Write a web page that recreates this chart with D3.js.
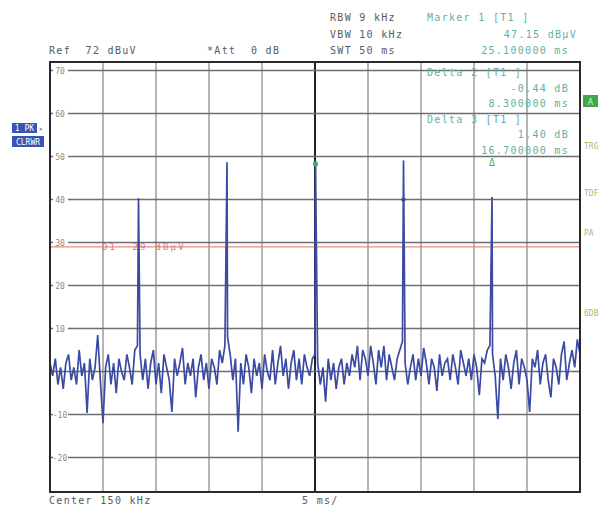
<!DOCTYPE html>
<html>
<head>
<meta charset="utf-8">
<script src="https://cdn.jsdelivr.net/npm/d3@7"></script>
<style>
  body { margin: 0; background: #fff; }
  svg text { font-family: "DejaVu Sans Mono", monospace; white-space: pre; }
</style>
</head>
<body>
<svg width="607" height="505"></svg>
<script>
// trace: noise floor sampled every 0.25 ms over the 50 ms sweep (dBuV)
const noiseStepMs = 0.25;
const noiseLevels = [
  2, -1, 3, -3, 1, -4, 2, 4, -2, 1,
  -3, 5, -1, 2, -9.6, 3, -2, 1, 8.5, -2,
  -12, 1, 4, -3, 2, -5, 3, 0, -2, 4,
  1, -3, 5, 6, 4, -2, 3, -4, 2, 5,
  -3, 2, -5, 4, 1, -2, -9.4, 3, -1, 2,
  5.5, -3, 2, -1, 3, -6, 1, 4, -2, 2,
  -4, 3, 1, -3, 5, 2, 6, 8, 4, -2,
  3, -14, 2, -3, 4, 1, -5, 3, -1, 2,
  -4, 4, 0, -2, 5, -3, 2, 6, -1, 3,
  -4, 2, 5, -2, 3, -3, 4, 1, -1, 3,
  4, 2, -3, 1, -7, 3, -2, 2, -4, 1,
  3, -3, 2, -1, 4, 1, 6, -2, 5, 3,
  -1, 6, 2, -3, 5, 1, 6, -2, 4, 1,
  -2, 3, 5, 7, 2, -3, 1, 4, -2, 3,
  -1, 5.5, 2, -3, 3, 1, -4.5, 4, -1, 2,
  3, -2, 4, 1, -3, 5, 2, -1, 3, -2,
  4, 1, -5.5, 3, 2, 5, 6, 4, -1, -11,
  3, -2, 4, 1, -4, 2, 5, -3, 3, 1,
  -2, -9.4, 3, 1, 5, -3, 2, 4, -2, -6,
  3, 1, -3, 4, 7, -2, 2, 5, 1, 7.5,
  4
];

// pulses
const peakTimes = [8.35, 16.7, 25.05, 33.35, 41.7];
const peakLevels = [40.3, 48.7, 48.3, 49.1, 40.6];

// axes
const xTicks = [0, 5, 10, 15, 20, 25, 30, 35, 40, 45, 50];
const yTicks = [-20, -10, 0, 10, 20, 30, 40, 50, 60, 70];
const yTickLabels = ["-20", "-10", "", "10", "20", "30", "40", "50", "60", "70"];
const refLevel = 72;
const sweepMs = 50;

// display line
const displayLine = 29;
const displayLabel = "D1  29 dBµV";

// markers
const marker1 = { t: 25.05, level: 48.3 };
const delta2 = { t: 33.35, level: 40 };
const delta3 = { t: 41.7, level: 48.4 };

// header / marker info texts
const settingsLeft = ["Ref  72 dBuV", "*Att  0 dB"];
const settingsRight = ["RBW 9 kHz", "VBW 10 kHz", "SWT 50 ms"];
const markerInfo = ["Marker 1 [T1 ]", "47.15 dBµV", "25.100000 ms"];
const deltaInfo = ["Delta 2 [T1 ]", "-0.44 dB", "8.300000 ms", "Delta 3 [T1 ]", "1.40 dB", "16.700000 ms"];
const sideLabels = ["TRG", "TDF", "PA", "6DB"];
const footer = ["Center 150 kHz", "5 ms/"];

var svg = d3.select("svg");

var plotLeft = 50, plotRight = 580, plotTop = 62, plotBottom = 492;

var x = d3.scaleLinear().domain([0, sweepMs]).range([plotLeft, plotRight]);
var y = d3.scaleLinear().domain([refLevel - 100, refLevel]).range([plotBottom, plotTop]);

var headColor = "#5a5a5a";
var teal = "#5fb0a6";

//grid
svg.append("g").selectAll("line")
  .data(xTicks.slice(1, -1))
  .enter().append("line")
  .attr("x1", d => x(d)).attr("x2", d => x(d))
  .attr("y1", plotTop).attr("y2", plotBottom)
  .attr("stroke", d => d == 25 ? "#222" : "#a3a3a3")
  .attr("stroke-width", d => d == 25 ? 2 : 1.6);

svg.append("g").selectAll("line")
  .data(yTicks)
  .enter().append("line")
  .attr("x1", plotLeft).attr("x2", plotRight)
  .attr("y1", d => y(d)).attr("y2", d => y(d))
  .attr("stroke", "#6e6e6e")
  .attr("stroke-width", 1.5);

//tick labels on the grid
var tl = svg.append("g").selectAll("g")
  .data(yTicks.map((d, i) => ({ v: d, label: yTickLabels[i] })).filter(d => d.label != ""))
  .enter().append("g");
tl.append("rect")
  .attr("x", plotLeft + 3).attr("y", d => y(d.v) - 4)
  .attr("width", 15).attr("height", 8)
  .attr("fill", "#fff");
tl.append("text")
  .attr("x", plotLeft + 10).attr("y", d => y(d.v) + 3)
  .attr("text-anchor", "middle")
  .attr("font-size", 8)
  .attr("fill", "#8a8a8a")
  .text(d => d.label);

//display line
svg.append("line")
  .attr("x1", plotLeft).attr("x2", plotRight)
  .attr("y1", y(displayLine)).attr("y2", y(displayLine))
  .attr("stroke", "#ee8a7a").attr("stroke-width", 1.4);
svg.append("text")
  .attr("x", 102).attr("y", y(displayLine) + 3)
  .attr("font-size", 9)
  .attr("letter-spacing", 2.2)
  .attr("fill", "#e2786a")
  .text(displayLabel);

//trace
var trace = noiseLevels.map((v, i) => ({ t: i * noiseStepMs, v: v }));
peakTimes.forEach((t, i) => trace.push({ t: t, v: peakLevels[i] }));
trace.sort((a, b) => a.t - b.t);

svg.append("clipPath").attr("id", "plot")
  .append("rect").attr("x", plotLeft).attr("y", plotTop)
  .attr("width", plotRight - plotLeft).attr("height", plotBottom - plotTop);

var line = d3.line().x(d => x(d.t)).y(d => y(d.v));

svg.append("path")
  .datum(trace)
  .attr("clip-path", "url(#plot)")
  .attr("d", line)
  .attr("fill", "none")
  .attr("stroke", "#3b4aa2")
  .attr("stroke-width", 1.7)
  .attr("stroke-linejoin", "miter");

//frame
svg.append("rect")
  .attr("x", plotLeft).attr("y", plotTop)
  .attr("width", plotRight - plotLeft).attr("height", plotBottom - plotTop)
  .attr("fill", "none")
  .attr("stroke", "#2a2a2e")
  .attr("stroke-width", 2);

//markers
svg.append("circle")
  .attr("cx", x(marker1.t)).attr("cy", y(marker1.level))
  .attr("r", 2.6).attr("fill", "#3fae6a");
svg.append("circle")
  .attr("cx", x(delta2.t)).attr("cy", y(delta2.level))
  .attr("r", 2.2).attr("fill", "#3a4a8e");
svg.append("text")
  .attr("x", x(delta3.t)).attr("y", y(delta3.level) + 3)
  .attr("text-anchor", "middle")
  .attr("font-size", 10)
  .attr("fill", "#4cae6c")
  .text("Δ");

//header texts
function mono(sel, size) {
  return sel.attr("font-size", size || 10).attr("letter-spacing", 1.3);
}

mono(svg.append("text")).attr("x", 49).attr("y", 54).attr("fill", headColor).text(settingsLeft[0]);
mono(svg.append("text")).attr("x", 207).attr("y", 54).attr("fill", headColor).text(settingsLeft[1]);

svg.append("g").selectAll("text")
  .data(settingsRight)
  .enter().append("text")
  .call(mono)
  .attr("x", 330)
  .attr("y", (d, i) => 21 + i * 16.5)
  .attr("fill", headColor)
  .text(d => d);

mono(svg.append("text")).attr("x", 427).attr("y", 21).attr("fill", teal).text(markerInfo[0]);
mono(svg.append("text")).attr("x", 577).attr("y", 37.5).attr("text-anchor", "end").attr("fill", teal).text(markerInfo[1]);
mono(svg.append("text")).attr("x", 569).attr("y", 54).attr("text-anchor", "end").attr("fill", teal).text(markerInfo[2]);

svg.append("g").selectAll("text")
  .data(deltaInfo)
  .enter().append("text")
  .call(mono)
  .attr("x", (d, i) => i % 3 == 0 ? 427 : 569)
  .attr("y", (d, i) => 76 + i * 15.6)
  .attr("text-anchor", (d, i) => i % 3 == 0 ? "start" : "end")
  .attr("fill", teal)
  .text(d => d);

//left trace boxes
svg.append("rect").attr("x", 12).attr("y", 123).attr("width", 25).attr("height", 10).attr("fill", "#3655b4");
svg.append("text").attr("x", 24.5).attr("y", 131).attr("text-anchor", "middle")
  .attr("font-size", 8).attr("fill", "#fff").text("1 PK");
svg.append("text").attr("x", 39).attr("y", 131).attr("font-size", 7).attr("fill", "#888").text("▸");
svg.append("rect").attr("x", 12).attr("y", 136).attr("width", 32).attr("height", 11).attr("fill", "#3655b4");
svg.append("text").attr("x", 28).attr("y", 144.5).attr("text-anchor", "middle")
  .attr("font-size", 8).attr("fill", "#fff").text("CLRWR");

//right side labels
svg.append("rect").attr("x", 583).attr("y", 95).attr("width", 15).attr("height", 12).attr("fill", "#3fa84a");
svg.append("text").attr("x", 590.5).attr("y", 104.5).attr("text-anchor", "middle")
  .attr("font-size", 9).attr("fill", "#c8efc0").text("A");

svg.append("g").selectAll("text")
  .data(sideLabels)
  .enter().append("text")
  .attr("x", 584)
  .attr("y", (d, i) => [149, 196, 236, 316][i])
  .attr("font-size", 8)
  .attr("fill", "#a9bd5e")
  .text(d => d);

//footer
mono(svg.append("text")).attr("x", 49).attr("y", 504).attr("fill", headColor).text(footer[0]);
mono(svg.append("text")).attr("x", 302).attr("y", 504).attr("fill", headColor).text(footer[1]);
</script>
</body>
</html>
